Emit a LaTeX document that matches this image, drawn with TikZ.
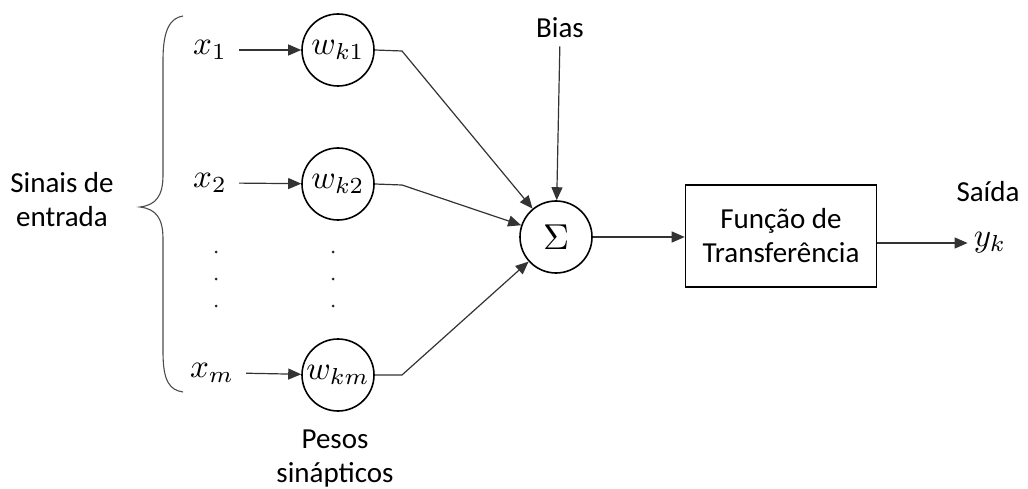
\documentclass[tikz,border=0pt]{standalone}
\usepackage{graphicx}
\usepackage{fontspec}
\setmainfont{Carlito}
\usetikzlibrary{arrows.meta}
% math set at normal size and enlarged
\newcommand{\symlarge}[1]{\scalebox{3.3}{$#1$}}
\begin{document}
\begin{tikzpicture}[x=1pt,y=-1pt,
  lbl/.style={font=\fontsize{29}{34}\selectfont, align=center, inner sep=0pt},
  mathlbl/.style={inner sep=0pt},
  weight/.style={circle, draw=black, line width=1.6pt, minimum size=72pt, inner sep=0pt},
  conn/.style={draw=black!80, line width=1.2pt},
  arr/.style={conn, -{Triangle[length=13pt,width=11pt]}},
  dotmark/.style={circle, fill=black!85, inner sep=0pt, minimum size=3pt}]
\useasboundingbox (0,0) rectangle (1028,489);

% input signals
\node[mathlbl] (x1) at (210,50) {\symlarge{x_1}};
\node[mathlbl] (x2) at (210,183) {\symlarge{x_2}};
\node[mathlbl] (xm) at (212,373) {\symlarge{x_m}};

% synaptic weights
\node[weight] (w1) at (338,50) {\symlarge{w_{k1}}};
\node[weight] (w2) at (338,184) {\symlarge{w_{k2}}};
\node[weight] (wm) at (338,375) {\symlarge{w_{km}}};

% vertical ellipses
\foreach \yy in {252,279,306} {
  \node[dotmark] at (216,\yy) {};
  \node[dotmark] at (333,\yy) {};
}

% brace grouping the inputs
\draw[draw=black!70, line width=1.1pt] (183,16) .. controls (170,18) and (163,30) .. (163,60)
  -- (163,175) .. controls (163,196) and (156,205) .. (140,207)
  .. controls (156,209) and (163,218) .. (163,239)
  -- (163,352) .. controls (163,382) and (170,390) .. (183,392);

\node[lbl] (sinais) at (62,200) {Sinais de\\entrada};
\node[lbl] (pesos) at (335,459) {Pesos\\sinápticos};

% summing junction
\node[weight] (s) at (556,237) {\scalebox{3.6}{$\Sigma$}};
\node[lbl] (bias) at (560,28) {Bias};

% transfer function block
\node[lbl, draw=black, line width=1.6pt, minimum width=191pt, minimum height=102pt] (box) at (781,236) {Função de\\Transferência};

% output
\node[lbl] (saida) at (988,192) {Saída};
\node[mathlbl] (yk) at (990,243) {\symlarge{y_k}};

% connectors
\draw[arr, shorten <=12pt] (x1.east) -- (w1);
\draw[arr, shorten <=12pt] (x2.east) -- (w2);
\draw[arr, shorten <=12pt] (xm.east) -- (wm);

\coordinate (c1) at (402,51);
\coordinate (c2) at (402,185);
\coordinate (cm) at (402,375);
\draw[arr] (w1.east) -- (c1) -- (s);
\draw[arr] (w2.east) -- (c2) -- (s);
\draw[arr] (wm.east) -- (cm) -- (s);

\draw[arr, shorten <=8pt] (bias.south) -- (s);
\draw[arr] (s.east) -- (box.west |- s.east);
\draw[arr, shorten >=6pt] (box.east |- yk.west) -- (yk.west);
\end{tikzpicture}
\end{document}
